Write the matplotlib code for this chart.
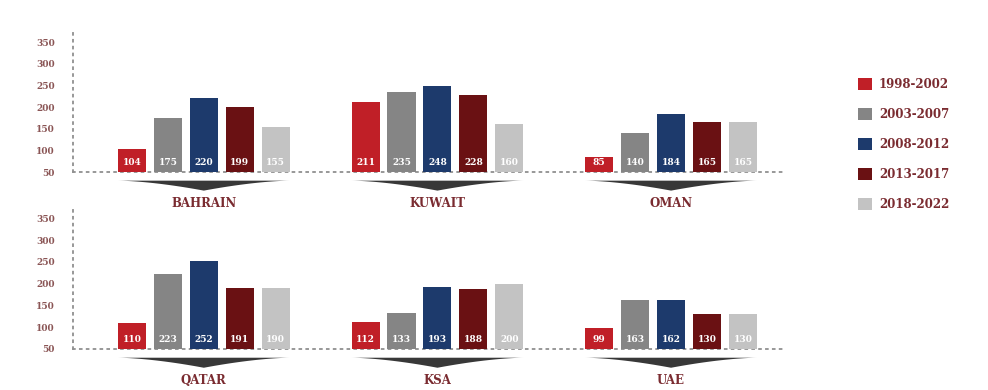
import numpy as np
import matplotlib
matplotlib.use('agg')
import matplotlib.pyplot as plt
from matplotlib.patches import Polygon, Patch

periods = ['1998-2002', '2003-2007', '2008-2012', '2013-2017', '2018-2022']
colors = ['#c01f27', '#858585', '#1d3a6c', '#6a1113', '#c3c3c3']

top_countries = ['BAHRAIN', 'KUWAIT', 'OMAN']
top_values = [
    [104, 175, 220, 199, 155],
    [211, 235, 248, 228, 160],
    [85, 140, 184, 165, 165],
]
bottom_countries = ['QATAR', 'KSA', 'UAE']
bottom_values = [
    [110, 223, 252, 191, 190],
    [112, 133, 193, 188, 200],
    [99, 163, 162, 130, 130],
]
yticks = [50, 100, 150, 200, 250, 300, 350]

SERIF = 'DejaVu Serif'
TICK_COLOR = '#8a5555'
TEXT_COLOR = '#7a2b30'
GROUP_STEP = 6.5
BAR_W = 0.78
BASE = 50


def draw_row(ax, countries, values):
    for g, (name, vals) in enumerate(zip(countries, values)):
        xs = g * GROUP_STEP + np.arange(len(vals))
        ax.bar(xs, np.array(vals) - BASE, bottom=BASE, width=BAR_W,
               color=colors, zorder=3)
        for x, v in zip(xs, vals):
            ax.text(x, BASE + 22, str(v), ha='center', va='center',
                    color='white', fontsize=6.5, fontweight='bold',
                    family=SERIF, zorder=4)

        # dark pointer under each group
        left = xs[0] - BAR_W / 2
        right = xs[-1] + BAR_W / 2
        mid = (left + right) / 2
        top, depth = BASE - 20, 23
        t = np.linspace(-1, 1, 61)
        lower = top - depth * (1 - np.abs(t)) ** 1.6
        pts = [(left, top), (right, top)] + list(zip(mid - t * (mid - left), lower[::-1]))
        ax.add_patch(Polygon(pts, closed=True, facecolor='#383838',
                             edgecolor='none', clip_on=False, zorder=2))
        ax.text(mid, BASE - 72, name, ha='center', va='center',
                color=TEXT_COLOR, fontsize=8.5, fontweight='bold', family=SERIF)

    ax.set_facecolor('none')
    ax.set_xlim(-1.64, 18.17)
    ax.set_ylim(BASE, 378)
    ax.set_xticks([])
    ax.set_yticks(yticks)
    ax.set_yticklabels([str(t) for t in yticks], family=SERIF,
                       fontweight='bold', fontsize=6.5, color=TICK_COLOR)
    ax.tick_params(axis='y', length=0, pad=13)
    for s in ['top', 'right']:
        ax.spines[s].set_visible(False)
    for s in ['left', 'bottom']:
        ax.spines[s].set_linestyle((0, (1, 2.8)))
        ax.spines[s].set_linewidth(1.3)
        ax.spines[s].set_color('#909090')
        ax.spines[s].set_zorder(1)


fig = plt.figure(figsize=(9.88, 3.9), dpi=100)
ax_top = fig.add_axes([73 / 988, 1 - 172 / 390, 712 / 988, 142 / 390])
ax_bot = fig.add_axes([73 / 988, 1 - 349 / 390, 712 / 988, 143 / 390])
draw_row(ax_top, top_countries, top_values)
draw_row(ax_bot, bottom_countries, bottom_values)

handles = [Patch(facecolor=c, edgecolor='none') for c in colors]
leg = fig.legend(handles, periods, loc='upper left',
                 bbox_to_anchor=(847 / 988, 1 - 67 / 390), frameon=False,
                 handlelength=1.2, handleheight=1.2, handletextpad=0.6,
                 labelspacing=1.45,
                 prop={'family': SERIF, 'weight': 'bold', 'size': 8.5})
for txt in leg.get_texts():
    txt.set_color(TEXT_COLOR)

fig.savefig('out.png', dpi=100)
